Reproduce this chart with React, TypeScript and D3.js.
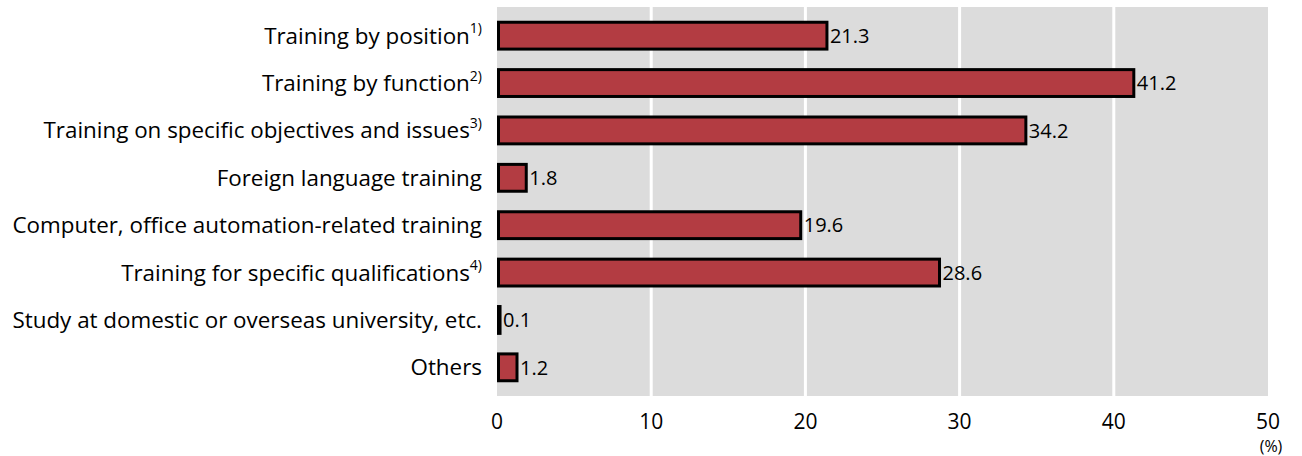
import React from "react";
import * as d3 from "d3";

const categories = [
  "Training by position",
  "Training by function",
  "Training on specific objectives and issues",
  "Foreign language training",
  "Computer, office automation-related training",
  "Training for specific qualifications",
  "Study at domestic or overseas university, etc.",
  "Others",
];
const notes = ["1)", "2)", "3)", "", "", "4)", "", ""];
const values = [21.3, 41.2, 34.2, 1.8, 19.6, 28.6, 0.1, 1.2];
const ticks = [0, 10, 20, 30, 40, 50];

const W = 1302;
const H = 456;
const left = 497;
const right = 1268;
const top = 7;
const bottom = 396;
const FONT = "'Open Sans', 'Noto Sans', sans-serif";

export default function App() {
  const x = d3.scaleLinear().domain([0, 50]).range([left, right]);
  const y = d3
    .scaleBand<string>()
    .domain(categories)
    .range([top, bottom])
    .paddingInner(0.37)
    .paddingOuter(0.29);
  const bw = y.bandwidth();
  return (
    <svg width={W} height={H} style={{ position: "absolute", left: 0, top: 0 }} fontFamily={FONT}>
      <rect x={left} y={top} width={right - left} height={bottom - top} fill="#dcdcdc" />
      {ticks.slice(1, -1).map((t) => (
        <line key={t} x1={x(t)} x2={x(t)} y1={top} y2={bottom} stroke="#ffffff" strokeWidth={3} />
      ))}
      {categories.map((c, i) => {
        const yc = (y(c) as number) + bw / 2;
        const x0 = x(0) + 1.5;
        const w = Math.max(x(values[i]) - x(0), 0.01);
        return (
          <g key={c}>
            <rect
              x={x0}
              y={(y(c) as number) + 1.5}
              width={w}
              height={bw - 3}
              fill="#b33c42"
              stroke="#000"
              strokeWidth={3}
            />
            <text x={x0 + w + 3} y={yc} dy="0.36em" fontSize={20} fill="#000">
              {values[i].toFixed(1)}
            </text>
            <text x={482} y={yc} dy="0.36em" fontSize={22.4} textAnchor="end" fill="#000">
              {c}
              {notes[i] ? (
                <tspan fontSize={14} dy="-0.75em">
                  {notes[i]}
                </tspan>
              ) : null}
            </text>
          </g>
        );
      })}
      {ticks.map((t) => (
        <text key={t} x={x(t)} y={429} fontSize={21} textAnchor="middle" fill="#000">
          {t}
        </text>
      ))}
      <text x={x(50) + 3} y={452} fontSize={16} textAnchor="middle" fill="#000">
        (%)
      </text>
    </svg>
  );
}
